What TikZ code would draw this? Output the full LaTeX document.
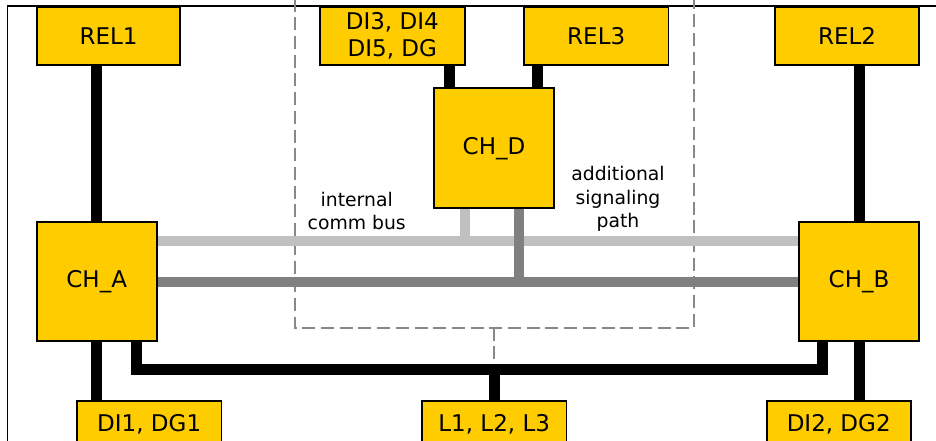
\documentclass[tikz,border=0pt]{standalone}
\usepackage{fontspec}
\setmainfont{DejaVu Sans}
\usetikzlibrary{calc,backgrounds}
\begin{document}
\begin{tikzpicture}[x=1pt,y=-1pt,
  box/.style={draw=black,line width=1.7pt,fill=boxyellow,inner sep=0pt,align=center,
    font=\fontsize{23}{26.5}\selectfont},
  lbl/.style={align=center,inner sep=0pt,font=\fontsize{18.8}{23.5}\selectfont},
  blk/.style={line width=11pt,draw=black,line join=miter},
  lg/.style={line width=10pt,draw=lightbus},
  dg/.style={line width=10pt,draw=darkbus},
  dsh/.style={draw=dashgray,line width=2pt,dash pattern=on 13pt off 5.7pt}]
\definecolor{boxyellow}{HTML}{FFCC00}
\definecolor{lightbus}{HTML}{C0C0C0}
\definecolor{darkbus}{HTML}{808080}
\definecolor{dashgray}{HTML}{888888}
\clip (0,0) rectangle (936,441);
% nodes
\node[box,minimum width=143.6pt,minimum height=58pt] (rel1) at (108.5,35.7) {REL1};
\node[box,minimum width=120pt,minimum height=119.6pt] (cha) at (96.7,281.5) {CH\_A};
\node[box,minimum width=144.3pt,minimum height=47.6pt] (di1) at (149.2,424.5) {DI1, DG1};
\node[box,minimum width=144.7pt,minimum height=58pt] (di3) at (392.3,35.7) {DI3, DI4\\DI5, DG};
\node[box,minimum width=144.3pt,minimum height=58pt] (rel3) at (596.2,35.7) {REL3};
\node[box,minimum width=144pt,minimum height=58pt] (rel2) at (847,35.7) {REL2};
\node[box,minimum width=120.6pt,minimum height=120pt] (chd) at (494,148.3) {CH\_D};
\node[box,minimum width=120pt,minimum height=119.6pt] (chb) at (859,281.5) {CH\_B};
\node[box,minimum width=144pt,minimum height=47.6pt] (di2) at (838.7,424.5) {DI2, DG2};
\node[box,minimum width=144.3pt,minimum height=47.6pt] (l123) at (494.2,424.5) {L1, L2, L3};
\node[lbl] (lint) at (356.7,211) {internal\\comm bus};
\node[lbl] (ladd) at (618,199) {additional\\signaling\\path};
\begin{pgfonlayer}{background}
\draw[line width=1.4pt] (7.5,6) rectangle (1000,520);
% dashed region
\draw[dsh] (294.7,-20) -- (294.7,327.7) -- (694,327.7) -- (694,-20);
\coordinate (dtop) at (494.2,327.7);
\coordinate (dbot) at (494.2,364);
\draw[dsh] (dtop) -- (dbot);
% black links
\draw[blk] (cha.north) -- (cha.north |- rel1.south);
\draw[blk] (cha.south) -- (cha.south |- di1.north);
\draw[blk] (chb.north) -- (chb.north |- rel2.south);
\draw[blk] (chb.south) -- (chb.south |- di2.north);
\coordinate (ca) at ($(cha.south east)+(-21.2,0)$);
\coordinate (cb) at ($(chb.south west)+(24.3,0)$);
\coordinate (busl) at ($(l123.north)+(0,-30.7)$);
\draw[blk] (ca) |- (busl) -| (cb);
\draw[blk] (l123.north) -- (busl);
\coordinate (d3) at ($(chd.north west)+(16.8,0)$);
\coordinate (r3) at ($(chd.north east)+(-17.6,0)$);
\draw[blk] (d3) -- (d3 |- di3.south);
\draw[blk] (r3) -- (r3 |- rel3.south);
% buses
\coordinate (la) at ($(cha.east)+(0,-40.5)$);
\coordinate (lb) at ($(chb.west)+(0,-40.5)$);
\draw[lg] (la) -- (lb);
\coordinate (ls) at ($(chd.south west)+(32.3,0)$);
\draw[lg] (ls) -- (ls |- lb);
\coordinate (ds) at ($(chd.south west)+(86,0)$);
\draw[dg] (ds) -- (ds |- cha.east);
\draw[dg] (cha.east) -- (chb.west);
\end{pgfonlayer}
\end{tikzpicture}
\end{document}
